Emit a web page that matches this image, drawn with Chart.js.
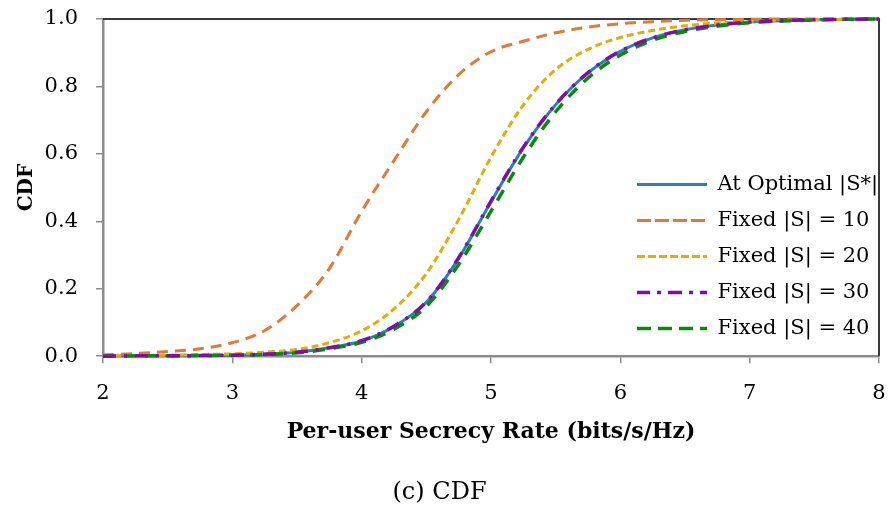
<!DOCTYPE html>
<html>
<head>
<meta charset="utf-8">
<script src="https://cdn.jsdelivr.net/npm/chart.js@4.4.1/dist/chart.umd.min.js"></script>
<style>
  html, body { margin: 0; padding: 0; background: #fff; }
  #wrap { width: 888px; height: 513px; }
</style>
</head>
<body>
<div id="wrap"><canvas id="cdfChart" width="888" height="513"></canvas></div>
<script>
// secrecy rate grid (bits/s/Hz)
const rates = [2, 2.25, 2.5, 2.75, 3, 3.25, 3.5, 3.75, 4, 4.25, 4.5, 4.75, 5, 5.25, 5.5, 5.75, 6, 6.25, 6.5, 6.75, 7, 7.25, 7.5, 7.75, 8];

// CDF values
const cdfOptimal = [0, 0.001, 0.001, 0.002, 0.003, 0.006, 0.012, 0.025, 0.045, 0.088, 0.16, 0.29, 0.458, 0.618, 0.746, 0.84, 0.904, 0.944, 0.968, 0.982, 0.991, 0.995, 0.998, 0.999, 1];
const cdfFixed10 = [0.004, 0.008, 0.014, 0.022, 0.04, 0.076, 0.15, 0.26, 0.43, 0.58, 0.725, 0.835, 0.903, 0.934, 0.959, 0.976, 0.986, 0.992, 0.996, 0.998, 0.999, 1, 1, 1, 1];
const cdfFixed20 = [0.001, 0.002, 0.003, 0.005, 0.007, 0.012, 0.02, 0.04, 0.075, 0.14, 0.245, 0.405, 0.59, 0.745, 0.85, 0.91, 0.945, 0.966, 0.98, 0.988, 0.993, 0.996, 0.998, 0.999, 1];
const cdfFixed30 = [0, 0.001, 0.001, 0.002, 0.003, 0.006, 0.012, 0.025, 0.046, 0.089, 0.161, 0.292, 0.46, 0.62, 0.747, 0.841, 0.905, 0.944, 0.968, 0.982, 0.991, 0.995, 0.998, 0.999, 1];
const cdfFixed40 = [0, 0.001, 0.001, 0.002, 0.003, 0.005, 0.01, 0.022, 0.041, 0.08, 0.148, 0.272, 0.43, 0.59, 0.725, 0.825, 0.893, 0.937, 0.963, 0.979, 0.989, 0.994, 0.997, 0.999, 1];

const seriesNames = ['At Optimal |S*|', 'Fixed |S| = 10', 'Fixed |S| = 20', 'Fixed |S| = 30', 'Fixed |S| = 40'];
const yTicks = [0, 0.2, 0.4, 0.6, 0.8, 1.0];

const serif = "'DejaVu Serif', 'Liberation Serif', serif";

function toPoints(values) {
	return rates.map((r, i) => ({ x: r, y: values[i] }));
}

function makeSet(label, values, color, dash, width, order) {
	return {
		label: label,
		data: toPoints(values),
		borderColor: color,
		backgroundColor: 'rgba(0,0,0,0)',
		borderWidth: width,
		borderDash: dash,
		pointRadius: 0,
		cubicInterpolationMode: 'monotone',
		clip: 6,
		order: order,
	};
}

// top and right frame lines + legend placement
const framePlugin = {
	id: 'frame',
	afterLayout(chart) {
		const lg = chart.legend;
		const pad = lg.options.labels.padding;
		lg.left = 637 - pad;
		lg.right = chart.chartArea.right;
		lg.top = 174 - pad;
		lg.bottom = chart.height;
	},
	beforeDatasetsDraw(chart) {
		const { ctx, chartArea } = chart;
		ctx.save();
		ctx.strokeStyle = '#3a3a3a';
		ctx.lineWidth = 2;
		ctx.beginPath();
		ctx.moveTo(chartArea.left, chartArea.top);
		ctx.lineTo(chartArea.right, chartArea.top);
		ctx.lineTo(chartArea.right, chartArea.bottom);
		ctx.stroke();
		ctx.restore();
	},
	afterDraw(chart) {
		// legend text is cut off at the right frame, as in the original
		const { ctx, chartArea } = chart;
		ctx.save();
		ctx.fillStyle = '#fff';
		ctx.fillRect(chartArea.right + 1, chartArea.top + 4, chart.width - chartArea.right, chartArea.bottom - chartArea.top - 8);
		ctx.restore();
	},
};

const config = {
	type: 'line',
	data: {
		datasets: [
			makeSet(seriesNames[0], cdfOptimal, '#2E7DC0', [], 3, 5),
			makeSet(seriesNames[1], cdfFixed10, '#E0793A', [11, 7], 3, 4),
			makeSet(seriesNames[2], cdfFixed20, '#E3AC07', [7, 4], 3, 3),
			makeSet(seriesNames[3], cdfFixed30, '#7E0FA5', [13, 8, 3, 8], 3.5, 1),
			makeSet(seriesNames[4], cdfFixed40, '#0A8A0A', [12, 9], 3.5, 2),
		],
	},
	options: {
		responsive: false,
		animation: false,
		layout: { padding: { top: 19, right: 9, left: 0, bottom: 0 } },
		plugins: {
			legend: {
				position: 'chartArea',
				align: 'start',
				labels: {
					boxWidth: 70,
					boxHeight: 0,
					padding: 15,
					color: '#000',
					font: { family: serif, size: 21 },
					sort: (a, b) => a.datasetIndex - b.datasetIndex,
				},
			},
			title: {
				display: true,
				position: 'bottom',
				text: '(c) CDF',
				color: '#000',
				font: { family: serif, size: 24, weight: 'normal' },
				padding: { top: 0, bottom: 6 },
			},
			tooltip: { enabled: false },
		},
		scales: {
			x: {
				type: 'linear',
				min: 2,
				max: 8,
				afterFit(scale) {
					scale.height = 122;
					scale.paddingLeft = 0;
					scale.paddingRight = 0;
				},
				ticks: { stepSize: 1, padding: 18, color: '#000', font: { family: serif, size: 21 } },
				grid: { drawOnChartArea: false, tickLength: 7, color: '#8c8c8c', lineWidth: 1.5 },
				border: { color: '#8c8c8c', width: 2.5 },
				title: {
					display: true,
					text: 'Per-user Secrecy Rate (bits/s/Hz)',
					color: '#000',
					font: { family: serif, size: 22, weight: 'bold' },
					padding: { top: 0, bottom: 33 },
				},
			},
			y: {
				min: 0,
				max: 1,
				afterFit(scale) {
					scale.width = 103;
					scale.paddingTop = 0;
					scale.paddingBottom = 0;
				},
				afterBuildTicks(scale) { scale.ticks = yTicks.map(v => ({ value: v })); },
				ticks: {
					padding: 18,
					color: '#000',
					font: { family: serif, size: 21 },
					callback: v => v.toFixed(1),
				},
				grid: { drawOnChartArea: false, tickLength: 7, color: '#8c8c8c', lineWidth: 1.5 },
				border: { color: '#8c8c8c', width: 2.5 },
				title: {
					display: true,
					text: 'CDF',
					color: '#000',
					font: { family: serif, size: 20, weight: 'bold' },
					padding: { top: 15, bottom: 0 },
				},
			},
		},
	},
	plugins: [framePlugin],
};

const cdfChart = new Chart(document.getElementById('cdfChart'), config);
</script>
</body>
</html>
